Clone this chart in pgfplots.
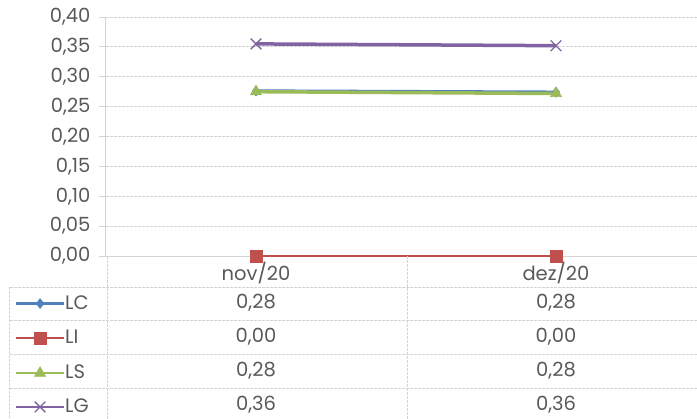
\documentclass[border=0pt]{standalone}
\usepackage{pgfplots}
\pgfplotsset{compat=1.18}
\usepackage{fontspec}
\setmainfont{Poppins}
\definecolor{txt}{RGB}{89,89,89}
\definecolor{gridc}{RGB}{212,212,212}
\definecolor{cLC}{RGB}{79,129,189}
\definecolor{cLI}{RGB}{192,80,77}
\definecolor{cLS}{RGB}{155,187,89}
\definecolor{cLG}{RGB}{128,100,162}
\begin{document}
\begin{tikzpicture}[font=\fontsize{19.5bp}{22bp}\selectfont]
\begin{axis}[name=ax, scale only axis, width=591bp, height=239bp,
  xmin=-0.5, xmax=1.47, ymin=0, ymax=0.4,
  ytick={0,0.05,0.1,0.15,0.2,0.25,0.3,0.35,0.4},
  xtick={0,1}, xticklabels={nov/20,dez/20},
  axis x line*=bottom, axis y line*=left,
  axis line style={gridc, line width=1bp, -},
  ymajorgrids, major grid style={gridc, line width=1bp, dash pattern=on 3bp off 1bp},
  ytick style={gridc, line width=1bp}, tick align=outside, major tick length=7bp,
  xtick style={draw=none},
  tick label style={text=txt},
  xticklabel style={yshift=4bp},
  yticklabel style={xshift=-5bp},
  /pgf/number format/use comma, /pgf/number format/fixed,
  /pgf/number format/fixed zerofill, /pgf/number format/precision=2,
  /pgf/number format/assume math mode=true,
  clip=false,
  legend image code/.code={\draw[mark repeat=2, mark phase=2, #1, line width=2.2bp] plot coordinates {(0bp,0bp) (24bp,0bp) (48bp,0bp)};},
  legend style={draw=none, fill=none, inner sep=0pt, outer sep=0pt,
    at={(axis description cs:-0.154,-0.176)}, anchor=north west,
    row sep=22.8bp, text=txt,
    nodes={inner sep=0pt, text height=11bp, text depth=0pt},
    /tikz/every even column/.append style={column sep=6bp}},
  legend cell align=left,
]
\addplot[cLC, line width=3.5bp, mark=diamond*, mark size=5bp, mark options={line width=0.5bp}] coordinates {(0,0.276) (1,0.274)};
\addlegendentry{LC}
\addplot[cLI, line width=2bp, mark=square*, mark size=6bp, mark options={line width=0.5bp}] coordinates {(0,0) (1,0)};
\addlegendentry{LI}
\addplot[cLS, line width=3.5bp, mark=triangle*, mark size=6.5bp, mark options={line width=0.5bp}] coordinates {(0,0.275) (1,0.272)};
\addlegendentry{LS}
\addplot[cLG, line width=3.5bp, mark=x, mark size=7.5bp, mark options={line width=1.3bp}] coordinates {(0,0.355) (1,0.352)};
\addlegendentry{LG}
\end{axis}
\begin{scope}[shift={(ax.south west)}, x=1bp, y=1bp]
  \begin{scope}[gridc, line width=1bp, dash pattern=on 3bp off 1bp]
    \foreach \yy in {-31,-64.5,-98,-132,-165} {\draw (-96,\yy) -- (600,\yy);}
    \draw (-96,-31) -- (-96,-170);
    \draw (1,0) -- (1,-170);
    \draw (301,0) -- (301,-170);
  \end{scope}
  \node[text=txt, inner sep=0pt] at (150,-46.5) {0,28};
  \node[text=txt, inner sep=0pt] at (450,-46.5) {0,28};
  \node[text=txt, inner sep=0pt] at (150,-81) {0,00};
  \node[text=txt, inner sep=0pt] at (450,-81) {0,00};
  \node[text=txt, inner sep=0pt] at (150,-115) {0,28};
  \node[text=txt, inner sep=0pt] at (450,-115) {0,28};
  \node[text=txt, inner sep=0pt] at (150,-149) {0,36};
  \node[text=txt, inner sep=0pt] at (450,-149) {0,36};
  \pgfresetboundingbox
  \useasboundingbox (-106,-162) rectangle (591,256);
\end{scope}
\end{tikzpicture}
\end{document}
